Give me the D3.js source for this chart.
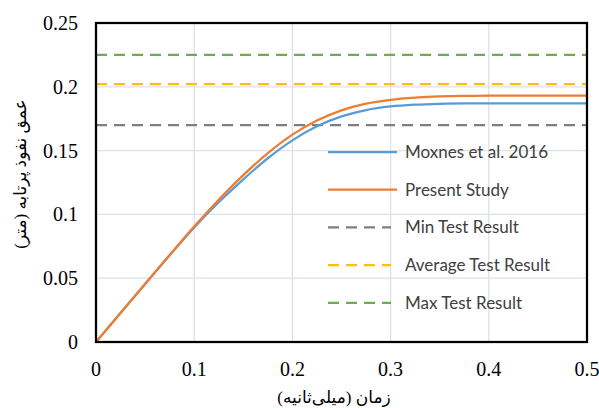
<!DOCTYPE html>
<html>
<head>
<meta charset="utf-8">
<script src="https://cdn.jsdelivr.net/npm/d3@7"></script>
<style>
  body { margin: 0; background: #fff; }
  svg { display: block; }
</style>
</head>
<body>
<svg id="chart" width="599" height="408"></svg>
<script>
// time (ms)
const timeMs = [0, 0.025, 0.05, 0.075, 0.1, 0.125, 0.15, 0.175, 0.2, 0.225, 0.25, 0.275, 0.3, 0.325, 0.35, 0.375, 0.4, 0.45, 0.5];
// penetration depth (m)
const moxnes = [0, 0.0228, 0.0455, 0.068, 0.0898, 0.1095, 0.1275, 0.144, 0.158, 0.169, 0.1768, 0.1818, 0.1846, 0.186, 0.1867, 0.187, 0.187, 0.187, 0.187];
const present = [0, 0.0228, 0.0455, 0.0682, 0.0905, 0.1115, 0.1308, 0.148, 0.1625, 0.1735, 0.1815, 0.1868, 0.1898, 0.1915, 0.1925, 0.1929, 0.193, 0.193, 0.193];
const testMin = 0.170;
const testAvg = 0.202;
const testMax = 0.225;

const xTicks = [0, 0.1, 0.2, 0.3, 0.4, 0.5];
const yTicks = [0, 0.05, 0.1, 0.15, 0.2, 0.25];

const legendItems = [
  { name: 'Moxnes et al. 2016', color: '#5B9BD5', dashed: false },
  { name: 'Present Study', color: '#ED7D31', dashed: false },
  { name: 'Min Test Result', color: '#7F7F7F', dashed: true },
  { name: 'Average Test Result', color: '#FFC000', dashed: true },
  { name: 'Max Test Result', color: '#70AD47', dashed: true },
];

const margin = { left: 96, top: 23, right: 12, bottom: 66 };
const width = 599, height = 408;
const svg = d3.select('#chart');

const x = d3.scaleLinear().domain([0, 0.5]).range([margin.left, width - margin.right]);
const y = d3.scaleLinear().domain([0, 0.25]).range([height - margin.bottom, margin.top]);

// gridlines
const grid = svg.append('g').attr('stroke', '#dde1e8').attr('stroke-width', 1.3);
grid.selectAll('line.gx').data(xTicks.slice(1, -1)).join('line')
  .attr('x1', d => x(d)).attr('x2', d => x(d))
  .attr('y1', y(0)).attr('y2', y(0.25));
grid.selectAll('line.gy').data(yTicks.slice(1, -1)).join('line')
  .attr('x1', x(0)).attr('x2', x(0.5))
  .attr('y1', d => y(d)).attr('y2', d => y(d));

// horizontal test results
const dash = '11,7';
const hlines = [
  { v: testMin, color: legendItems[2].color },
  { v: testAvg, color: legendItems[3].color },
  { v: testMax, color: legendItems[4].color },
];
svg.append('g').selectAll('line').data(hlines).join('line')
  .attr('x1', x(0)).attr('x2', x(0.5))
  .attr('y1', d => y(d.v)).attr('y2', d => y(d.v))
  .attr('stroke', d => d.color)
  .attr('stroke-width', 2.25)
  .attr('stroke-dasharray', dash);

// curves
const line = d3.line()
  .x((d, i) => x(timeMs[i]))
  .y(d => y(d))
  .curve(d3.curveMonotoneX);

svg.append('path').datum(moxnes)
  .attr('d', line).attr('fill', 'none')
  .attr('stroke', legendItems[0].color).attr('stroke-width', 2.25);
svg.append('path').datum(present)
  .attr('d', line).attr('fill', 'none')
  .attr('stroke', legendItems[1].color).attr('stroke-width', 2.25);

// plot border
svg.append('rect')
  .attr('x', x(0)).attr('y', y(0.25))
  .attr('width', x(0.5) - x(0)).attr('height', y(0) - y(0.25))
  .attr('fill', 'none').attr('stroke', '#000').attr('stroke-width', 2.25);

// tick labels
const tickFont = '"Liberation Serif", "Times New Roman", serif';
svg.append('g').selectAll('text').data(yTicks).join('text')
  .attr('x', 78).attr('y', d => y(d))
  .attr('dy', '0.35em')
  .attr('text-anchor', 'end')
  .attr('font-family', tickFont).attr('font-size', 20)
  .text(d => d);
svg.append('g').selectAll('text').data(xTicks).join('text')
  .attr('x', d => x(d)).attr('y', 369)
  .attr('dy', '0.35em')
  .attr('text-anchor', 'middle')
  .attr('font-family', tickFont).attr('font-size', 20)
  .text(d => d);

// axis titles
const titleFont = '"Liberation Serif", "DejaVu Serif", "DejaVu Sans", serif';
svg.append('text')
  .attr('x', 334).attr('y', 397)
  .attr('dy', '0.35em')
  .attr('text-anchor', 'middle')
  .attr('direction', 'rtl')
  .attr('font-family', titleFont).attr('font-size', 17)
  .text('زمان (میلی‌ثانیه)');
svg.append('text')
  .attr('transform', 'translate(20,174) rotate(-90)')
  .attr('dy', '0.35em')
  .attr('text-anchor', 'middle')
  .attr('direction', 'rtl')
  .attr('font-family', titleFont).attr('font-size', 17)
  .text('عمق نفوذ پرتابه (متر)');

// legend
const legend = svg.append('g');
const rowY = i => 152 + i * 37.7;
legend.selectAll('line').data(legendItems).join('line')
  .attr('x1', 328).attr('x2', d => d.dashed ? 391 : 397)
  .attr('y1', (d, i) => rowY(i)).attr('y2', (d, i) => rowY(i))
  .attr('stroke', d => d.color).attr('stroke-width', 2.25)
  .attr('stroke-dasharray', d => d.dashed ? dash : null);
legend.selectAll('text').data(legendItems).join('text')
  .attr('x', 405).attr('y', (d, i) => rowY(i))
  .attr('dy', '0.35em')
  .attr('font-family', 'Lato, "Noto Sans", sans-serif').attr('font-size', 17)
  .attr('fill', '#404040')
  .text(d => d.name);
</script>
</body>
</html>
